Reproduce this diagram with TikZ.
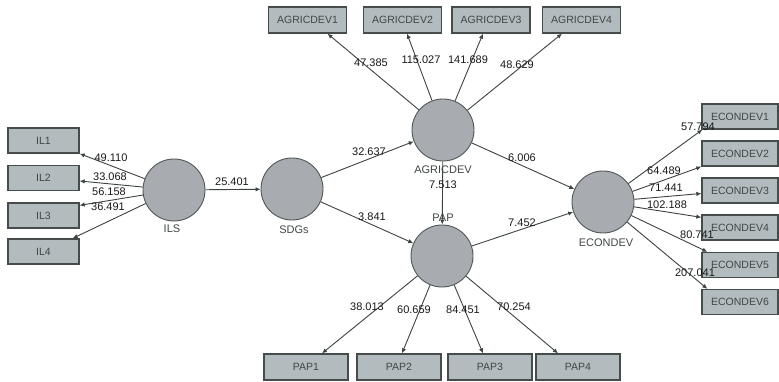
\documentclass[tikz,border=0pt]{standalone}
\usepackage{fontspec}
\setmainfont{Liberation Sans}
\usetikzlibrary{arrows.meta,calc}
\definecolor{boxfill}{RGB}{178,188,190}
\definecolor{boxline}{RGB}{70,76,76}
\definecolor{circfill}{RGB}{168,172,176}
\definecolor{circline}{RGB}{80,86,86}
\definecolor{arrowc}{RGB}{60,68,64}
\definecolor{boxtext}{RGB}{65,70,72}
\definecolor{lbltext}{RGB}{25,25,25}
\begin{document}
\begin{tikzpicture}[x=1pt,y=-1pt,
  ind/.style={draw=boxline, fill=boxfill, line width=1.3pt, minimum width=#1, minimum height=25pt, inner sep=0pt, font=\fontsize{10.5}{11}\selectfont, text=boxtext},
  ind/.default=71pt,
  lat/.style={circle, draw=circline, fill=circfill, minimum size=62pt, inner sep=0pt, line width=0.9pt},
  arr/.style={draw=arrowc, line width=0.9pt, -{Latex[length=5pt,width=4.5pt]}},
  lbl/.style={font=\fontsize{11}{12}\selectfont, text=lbltext, inner sep=0pt},
  latname/.style={font=\fontsize{11}{12}\selectfont, text=boxtext, inner sep=0pt}]
\useasboundingbox[fill=white] (0,0) rectangle (779,382);

% indicator boxes
\node[ind] (IL1) at (43.5,140.5) {IL1};
\node[ind] (IL2) at (43.5,178) {IL2};
\node[ind] (IL3) at (43.5,215.5) {IL3};
\node[ind] (IL4) at (43.5,251.5) {IL4};

\node[ind=78pt, minimum height=26pt] (A1) at (307.5,20) {AGRICDEV1};
\node[ind=78pt, minimum height=26pt] (A2) at (402.5,20) {AGRICDEV2};
\node[ind=78pt, minimum height=26pt] (A3) at (491,20) {AGRICDEV3};
\node[ind=78pt, minimum height=26pt] (A4) at (581.5,20) {AGRICDEV4};

\node[ind=84pt, minimum height=26pt] (P1) at (306,367) {PAP1};
\node[ind=84pt, minimum height=26pt] (P2) at (399,367) {PAP2};
\node[ind=84pt, minimum height=26pt] (P3) at (490,367) {PAP3};
\node[ind=84pt, minimum height=26pt] (P4) at (578,367) {PAP4};

\node[ind=76pt] (E1) at (740,116.5) {ECONDEV1};
\node[ind=76pt] (E2) at (740,153.5) {ECONDEV2};
\node[ind=76pt] (E3) at (740,190.5) {ECONDEV3};
\node[ind=76pt] (E4) at (740,227.5) {ECONDEV4};
\node[ind=76pt] (E5) at (740,265) {ECONDEV5};
\node[ind=76pt] (E6) at (740,302) {ECONDEV6};

% latent variables
\node[lat] (ILS) at (174,190) {};
\node[lat] (SDG) at (292,189) {};
\node[lat] (AGR) at (443,130) {};
\node[lat] (PAP) at (442,256) {};
\node[lat] (ECO) at (603,202) {};

\node[latname] (nILS) at (172,229) {ILS};
\node[latname] (nSDG) at (294,230) {SDGs};
\node[latname] (nAGR) at (443,170) {AGRICDEV};
\node[latname] (nECO) at (606,243) {ECONDEV};

% outer model arrows
\draw[arr] (ILS) -- (IL1.south east);
\draw[arr] (ILS) -- ($(IL2.east)+(0,3)$);
\draw[arr] (ILS) -- ($(IL3.north east)+(0,3)$);
\draw[arr] (ILS) -- ($(IL4.north east)+(-7,0)$);

\draw[arr] (AGR) -- ($(A1.south)+(20,0)$);
\draw[arr] (AGR) -- ($(A2.south)+(4.5,0)$);
\draw[arr] (AGR) -- ($(A3.south)+(-8,0)$);
\draw[arr] (AGR) -- ($(A4.south)+(-19.5,0)$);

\draw[arr] (PAP) -- ($(P1.north)+(16,0)$);
\draw[arr] (PAP) -- ($(P2.north)+(3,0)$);
\draw[arr] (PAP) -- ($(P3.north)+(-7,0)$);
\draw[arr] (PAP) -- ($(P4.north)+(-20,0)$);

\draw[arr] (ECO) -- ($(E1.south west)+(1,0)$);
\draw[arr] (ECO) -- (E2.south west);
\draw[arr] (ECO) -- ($(E3.west)+(0,3)$);
\draw[arr] (ECO) -- ($(E4.north west)+(0,3)$);
\draw[arr] (ECO) -- ($(E5.north west)+(6,0)$);
\draw[arr] (ECO) -- ($(E6.north west)+(6,0)$);

% inner model arrows
\draw[arr] (ILS) -- (SDG);
\draw[arr] (SDG) -- (AGR);
\draw[arr] (SDG) -- (PAP);
\draw[arr] (AGR) -- (PAP);
\draw[arr] (AGR) -- (ECO);
\draw[arr] (PAP) -- (ECO);

\node[latname] (nPAP) at (443,218) {PAP};

% path coefficient labels
\node[lbl] (c1) at (111,158) {49.110};
\node[lbl] (c2) at (110,177) {33.068};
\node[lbl] (c3) at (109,192) {56.158};
\node[lbl] (c4) at (108,207) {36.491};
\node[lbl] (c5) at (232,182) {25.401};
\node[lbl] (c6) at (369,152) {32.637};
\node[lbl] (c7) at (372,217) {3.841};
\node[lbl] (c8) at (522,158) {6.006};
\node[lbl] (c9) at (522,223) {7.452};
\node[lbl] (c10) at (443,185) {7.513};
\node[lbl] (c11) at (371,63) {47.385};
\node[lbl] (c12) at (421,60) {115.027};
\node[lbl] (c13) at (468,60) {141.689};
\node[lbl] (c14) at (517,65) {48.629};
\node[lbl] (c15) at (367,307) {38.013};
\node[lbl] (c16) at (414,310) {60.659};
\node[lbl] (c17) at (463,310) {84.451};
\node[lbl] (c18) at (514,307) {70.254};
\node[lbl] (c19) at (698,127) {57.794};
\node[lbl] (c20) at (664,171) {64.489};
\node[lbl] (c21) at (666,188) {71.441};
\node[lbl] (c22) at (667,205) {102.188};
\node[lbl] (c23) at (697,235) {80.741};
\node[lbl] (c24) at (695,273) {207.041};
\end{tikzpicture}
\end{document}
